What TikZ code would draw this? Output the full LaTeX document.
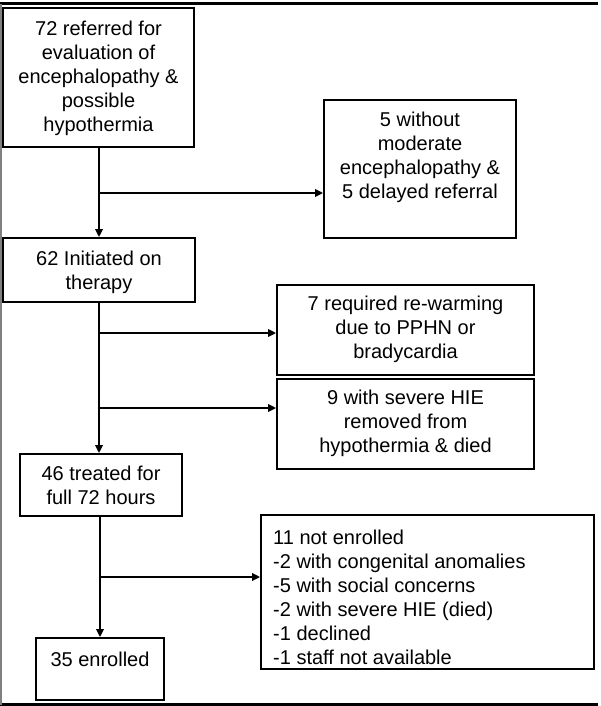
\documentclass[tikz,border=0pt]{standalone}
\usepackage{fontspec}
\setmainfont{Liberation Sans}
\usetikzlibrary{arrows.meta}
\begin{document}
\begin{tikzpicture}[x=1pt,y=-1pt,
  box/.style={draw, line width=1.8pt, rectangle, inner sep=0pt},
  txt/.style={inner sep=0pt, align=center, font=\fontsize{20}{24}\selectfont},
  arr/.style={line width=1.8pt, -{Triangle[length=8pt,width=7.5pt]}},
  ln/.style={line width=1.8pt}]
\useasboundingbox (0,0) rectangle (600,706);
% frame
\draw[line width=3pt] (0,4) -- (598,4);
\draw[line width=3pt] (0,704.5) -- (598,704.5);
\draw[gray, line width=1.2pt] (1,4) -- (1,704.5);
% boxes
\node[box, minimum width=191pt, minimum height=139pt] (b1) at (98.5,77.5) {};
\node[box, minimum width=192pt, minimum height=138pt] (bA) at (420,169) {};
\node[box, minimum width=192pt, minimum height=64pt] (b2) at (99,270) {};
\node[box, minimum width=257pt, minimum height=90pt] (bB) at (405.5,330) {};
\node[box, minimum width=257pt, minimum height=90pt] (bC) at (405.5,424) {};
\node[box, minimum width=162pt, minimum height=62pt] (b3) at (101,485) {};
\node[box, minimum width=128pt, minimum height=62pt] (b4) at (100,669) {};
\node[box, minimum width=333pt, minimum height=154pt] (bD) at (427.5,592) {};
% texts
\node[txt] (t1) at (98.5,78) {72 referred for\\evaluation of\\encephalopathy \&\\possible\\hypothermia};
\node[txt] (tA) at (420,157) {5 without\\moderate\\encephalopathy \&\\5 delayed referral};
\node[txt] (t2) at (99,272) {62 Initiated on\\therapy};
\node[txt] (tB) at (405.5,329) {7 required re-warming\\due to PPHN or\\bradycardia};
\node[txt] (tC) at (405.5,423) {9 with severe HIE\\removed from\\hypothermia \& died};
\node[txt] (t3) at (101,485.5) {46 treated for\\full 72 hours};
\node[txt] (t4) at (100,659) {35 enrolled};
\node[txt, align=left, anchor=west] (tD) at (273,597) {11 not enrolled\\-2 with congenital anomalies\\-5 with social concerns\\-2 with severe HIE (died)\\-1 declined\\-1 staff not available};
% connectors
\coordinate (j1) at (99,193);
\draw[arr] (b1.south -| j1) -- (b2.north -| j1);
\draw[arr] (j1) -- (bA.west |- j1);
\coordinate (j2) at (99,333);
\coordinate (j3) at (99,408);
\draw[arr] (b2.south -| j2) -- (b3.north -| j2);
\draw[arr] (j2) -- (bB.west |- j2);
\draw[arr] (j3) -- (bC.west |- j3);
\coordinate (j4) at (100,577);
\draw[arr] (b3.south -| j4) -- (b4.north -| j4);
\draw[arr] (j4) -- (bD.west |- j4);
\end{tikzpicture}
\end{document}
